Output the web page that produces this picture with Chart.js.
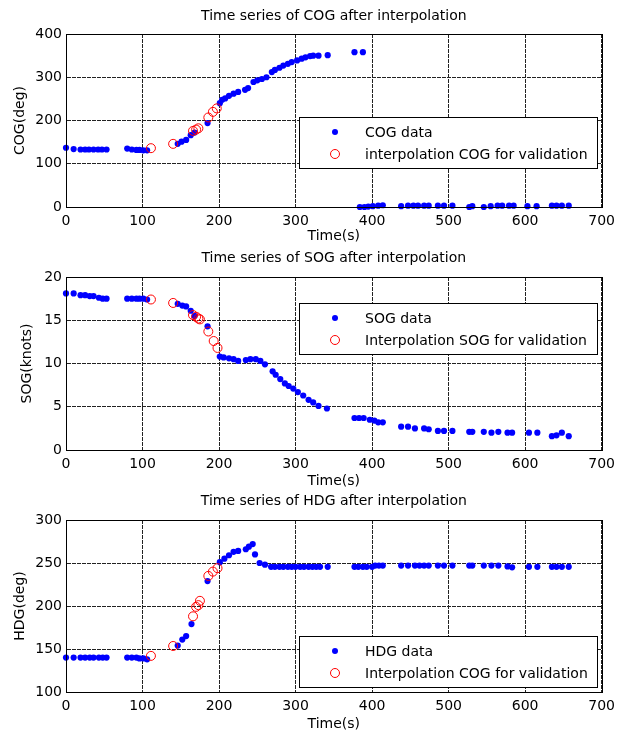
<!DOCTYPE html>
<html>
<head>
<meta charset="utf-8">
<script src="https://cdn.jsdelivr.net/npm/chart.js@4.4.1/dist/chart.umd.min.js"></script>
<style>
  body { margin: 0; background: #fff; }
  canvas { position: absolute; left: 0; }
</style>
</head>
<body>
<canvas id="cogChart" width="621" height="245" style="top:0px"></canvas>
<canvas id="sogChart" width="621" height="245" style="top:245px"></canvas>
<canvas id="hdgChart" width="621" height="245" style="top:490px"></canvas>
<script>
// Time (s) and values
const cogTime = [0, 10, 19, 25, 30, 36, 42, 47, 53, 80, 86, 92, 96, 101, 106,
  146, 151, 157, 163, 168, 185, 201, 204, 208, 213, 219, 225, 234, 238, 245, 250, 256, 262,
  269, 273, 279, 284, 290, 295, 302, 308, 313, 319, 323, 330, 342, 377, 388,
  384, 390, 395, 401, 408, 414, 438, 447, 454, 460, 468, 474, 486, 494, 505,
  527, 531, 546, 555, 564, 570, 579, 585, 603, 615, 635, 641, 648, 657];
const cogValue = [137, 134, 133, 133, 133, 133, 133, 133, 133, 135, 133, 132, 132, 131, 131,
  146, 151, 155, 166, 172, 194, 240, 248, 251, 257, 262, 266, 271, 275, 289, 293, 296, 300,
  312, 317, 322, 327, 331, 335, 339, 343, 346, 349, 350, 350, 351, 358, 358,
  0, 0, 1, 2, 3, 4, 2, 3, 3, 3, 3, 3, 3, 3, 3,
  0, 2, 0, 2, 3, 3, 3, 3, 2, 2, 3, 3, 3, 3];
const cogInterpTime = [111, 140, 166, 170, 173, 186, 192, 197];
const cogInterpValue = [136, 146, 176, 179, 182, 207, 220, 228];

const sogTime = [0, 10, 19, 25, 31, 36, 43, 48, 53, 80, 86, 92, 96, 101, 106,
  146, 152, 157, 163, 168, 185, 201, 206, 213, 219, 225, 235, 241, 248, 254, 260,
  270, 274, 280, 286, 291, 297, 303, 310, 317, 323, 330, 341,
  377, 383, 389, 397, 403, 408, 414, 438, 447, 456, 468, 474, 486, 494, 505,
  527, 531, 546, 556, 565, 577, 583, 605, 616, 635, 641, 648, 657];
const sogValue = [18.1, 18.1, 17.9, 17.9, 17.8, 17.8, 17.6, 17.5, 17.5, 17.5, 17.5, 17.5, 17.5, 17.5, 17.4,
  16.9, 16.7, 16.6, 16.1, 15.5, 14.3, 10.8, 10.7, 10.6, 10.5, 10.3, 10.4, 10.5, 10.5, 10.3, 9.9,
  9.1, 8.7, 8.2, 7.7, 7.4, 7.1, 6.7, 6.3, 5.8, 5.5, 5.1, 4.8,
  3.7, 3.7, 3.7, 3.5, 3.4, 3.2, 3.2, 2.7, 2.7, 2.5, 2.5, 2.4, 2.2, 2.2, 2.2,
  2.1, 2.1, 2.1, 2.0, 2.1, 2.0, 2.0, 2.0, 2.0, 1.6, 1.7, 2.0, 1.6];
const sogInterpTime = [111, 140, 166, 170, 173, 175, 186, 193, 198];
const sogInterpValue = [17.4, 17.0, 15.6, 15.4, 15.2, 15.1, 13.7, 12.6, 11.8];

const hdgTime = [0, 10, 19, 25, 31, 36, 43, 48, 53, 80, 86, 92, 96, 101, 106,
  146, 152, 157, 164, 185, 201, 207, 213, 219, 225, 235, 239, 244, 247, 253, 260,
  268, 273, 279, 284, 290, 295, 300, 306, 311, 317, 322, 327, 332, 342,
  377, 382, 388, 393, 400, 404, 409, 414, 438, 447, 456, 462, 468, 474, 486, 494, 505,
  527, 531, 546, 556, 565, 577, 583, 605, 616, 635, 641, 648, 657];
const hdgValue = [140, 140, 140, 140, 140, 140, 140, 140, 140, 140, 140, 140, 139, 139, 138,
  154, 161, 165, 179, 229, 251, 255, 259, 263, 264, 266, 269, 272, 260, 250, 248,
  245.5, 245.5, 245.5, 245.5, 245.5, 245.5, 245.5, 245.5, 245.5, 245.5, 245.5, 245.5, 245.5, 245.5,
  245.5, 245.5, 245.5, 245.5, 245.5, 247, 247, 247, 247, 247, 247, 247, 247, 247, 247, 247, 247,
  247, 247, 247, 247, 247, 246, 245, 245.5, 245.5, 245.5, 245.5, 245.5, 245.5];
const hdgInterpTime = [111, 140, 166, 170, 173, 175, 186, 192, 198];
const hdgInterpValue = [142, 153.5, 188, 199, 201, 206, 235, 240, 244];

const xTicks = [0, 100, 200, 300, 400, 500, 600, 700];
const FONT = 'DejaVu Sans';

const toPoints = (xs, ys) => xs.map((x, i) => ({ x: x, y: ys[i] }));

// MATLAB-like box, title and legend drawn over the plot
const matlabFrame = {
  id: 'matlabFrame',
  afterDraw(chart, args, o) {
    const { ctx, chartArea: a } = chart;
    ctx.save();
    ctx.strokeStyle = '#000';
    ctx.lineWidth = 1;
    ctx.strokeRect(Math.round(a.left) + 0.5, Math.round(a.top) + 0.5,
      Math.round(a.right - a.left), Math.round(a.bottom - a.top));

    ctx.fillStyle = '#000';
    ctx.font = '14px "' + FONT + '"';
    ctx.textAlign = 'center';
    ctx.textBaseline = 'alphabetic';
    ctx.fillText(o.title, (a.left + a.right) / 2, o.titleY + 5);

    // legend box
    const lx = 299, lw = 298, lh = 51, ly = o.legendTop;
    ctx.fillStyle = '#fff';
    ctx.fillRect(lx, ly, lw, lh);
    ctx.strokeRect(lx + 0.5, ly + 0.5, lw, lh);
    const ds = chart.data.datasets;
    // blue dot
    ctx.fillStyle = ds[1].backgroundColor;
    ctx.beginPath();
    ctx.arc(335, ly + 15, 3, 0, Math.PI * 2);
    ctx.fill();
    // red circle
    ctx.strokeStyle = ds[0].borderColor;
    ctx.beginPath();
    ctx.arc(335, ly + 37, 4.5, 0, Math.PI * 2);
    ctx.stroke();
    ctx.fillStyle = '#000';
    ctx.textAlign = 'left';
    ctx.fillText(ds[1].label, 365, ly + 15 + 5);
    ctx.fillText(ds[0].label, 365, ly + 37 + 5);
    ctx.restore();
  }
};

function makePanel(id, p) {
  return new Chart(document.getElementById(id), {
    type: 'scatter',
    data: {
      datasets: [{
        label: p.interpLabel,
        data: toPoints(p.interpTime, p.interpValue),
        pointStyle: 'circle',
        pointRadius: 4.5,
        borderWidth: 1,
        borderColor: '#ff0000',
        backgroundColor: 'rgba(0,0,0,0)',
        order: 0,
        clip: false
      }, {
        label: p.dataLabel,
        data: toPoints(p.time, p.value),
        pointRadius: 3.1,
        borderWidth: 0,
        borderColor: '#0000ff',
        backgroundColor: '#0000ff',
        order: 1,
        clip: false
      }]
    },
    options: {
      responsive: false,
      animation: false,
      layout: { padding: { top: p.top, left: 0, right: 16, bottom: 0 } },
      plugins: {
        legend: { display: false },
        tooltip: { enabled: false },
        matlabFrame: { title: p.title, titleY: p.titleY, legendTop: p.legendTop }
      },
      scales: {
        x: {
          type: 'linear',
          min: 0, max: 700,
          afterBuildTicks: s => { s.ticks = xTicks.map(v => ({ value: v })); },
          afterFit: s => { s.height = p.xHeight; },
          grid: { color: '#222', drawTicks: false },
          border: { color: '#000', dash: [4, 1] },
          ticks: { color: '#000', padding: 6, font: { family: FONT, size: 14 }, maxRotation: 0 },
          title: { display: true, text: 'Time(s)', color: '#000',
            font: { family: FONT, size: 14 }, padding: { top: 0, bottom: p.xTitlePad } }
        },
        y: {
          min: p.yMin, max: p.yMax,
          afterBuildTicks: s => { s.ticks = p.yTicks.map(v => ({ value: v })); },
          afterFit: s => { s.width = 66; },
          grid: { color: '#222', drawTicks: false },
          border: { color: '#000', dash: [4, 1] },
          ticks: { color: '#000', padding: 4, font: { family: FONT, size: 14 } },
          title: { display: true, text: p.yLabel, color: '#000',
            font: { family: FONT, size: 14 }, padding: { top: p.yTitlePad, bottom: 0 } }
        }
      }
    },
    plugins: [matlabFrame]
  });
}

makePanel('cogChart', {
  time: cogTime, value: cogValue, interpTime: cogInterpTime, interpValue: cogInterpValue,
  dataLabel: 'COG data', interpLabel: 'interpolation COG for validation',
  title: 'Time series of COG after interpolation', titleY: 15,
  yLabel: 'COG(deg)', yMin: 0, yMax: 400, yTicks: [0, 100, 200, 300, 400],
  top: 34, xHeight: 38, xTitlePad: 0, yTitlePad: 12, legendTop: 117
});

makePanel('sogChart', {
  time: sogTime, value: sogValue, interpTime: sogInterpTime, interpValue: sogInterpValue,
  dataLabel: 'SOG data', interpLabel: 'Interpolation SOG for validation',
  title: 'Time series of SOG after interpolation', titleY: 12,
  yLabel: 'SOG(knots)', yMin: 0, yMax: 20, yTicks: [0, 5, 10, 15, 20],
  top: 32, xHeight: 40, xTitlePad: 0, yTitlePad: 19, legendTop: 58
});

makePanel('hdgChart', {
  time: hdgTime, value: hdgValue, interpTime: hdgInterpTime, interpValue: hdgInterpValue,
  dataLabel: 'HDG data', interpLabel: 'Interpolation COG for validation',
  title: 'Time series of HDG after interpolation', titleY: 10,
  yLabel: 'HDG(deg)', yMin: 100, yMax: 300, yTicks: [100, 150, 200, 250, 300],
  top: 30, xHeight: 43, xTitlePad: 2, yTitlePad: 12, legendTop: 146
});
</script>
</body>
</html>
